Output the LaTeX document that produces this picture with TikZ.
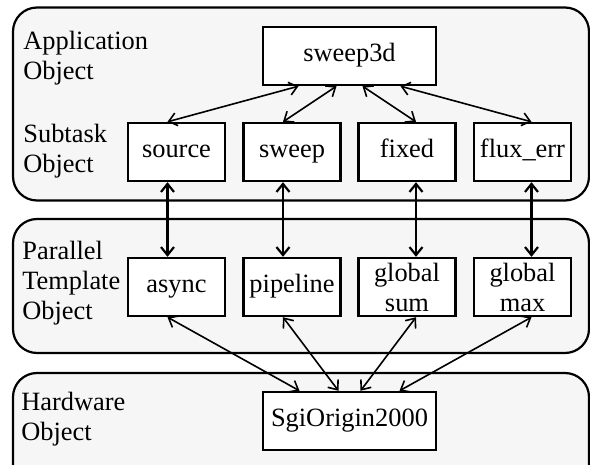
\documentclass[tikz,border=0pt]{standalone}
\usepackage{fontspec}
\setmainfont{Liberation Serif}
\usepackage{tikz}
\usetikzlibrary{arrows.meta}
\tikzset{>={Straight Barb[length=4pt,width=6.5pt]}}
\definecolor{layergray}{HTML}{F6F6F6}
\tikzset{
  layer/.style={draw, line width=1.1pt, fill=layergray, rounded corners=12pt},
  objbox/.style={draw, line width=1.2pt, fill=white, minimum width=48.5pt,
    minimum height=29pt, inner sep=1pt, align=center},
  oneline/.style={text height=0.75em, text depth=0.22em},
  layerlabel/.style={anchor=base west, align=left, inner sep=0pt},
  link/.style={<->, line width=0.8pt},
  vlink/.style={<->, line width=1.1pt}
}

\begin{document}
\begin{tikzpicture}[x=0.5pt, y=-0.5pt, font=\fontsize{13.2}{15}\selectfont]
    \clip (0, 0) rectangle (590, 465);
    % layers
    \draw[layer] (13, 7.5) rectangle (589, 200.5);
    \draw[layer] (13, 219) rectangle (589, 353);
    \draw[layer] (13, 373) rectangle (589, 495);
    \node[layerlabel] (applbl) at (23, 80) {Application\\Object};
    \node[layerlabel] (sublbl) at (23, 173) {Subtask\\Object};
    \node[layerlabel] (parlbl) at (22, 320) {Parallel\\Template\\Object};
    \node[layerlabel] (hwlbl) at (21, 440) {Hardware\\Object};
    % objects
    \node[objbox, oneline, minimum width=86.5pt] (sweep3d) at (349.5, 56) {sweep3d};
    \node[objbox, oneline] (source) at (176.5, 152) {source};
    \node[objbox, oneline] (sweep) at (292, 152) {sweep};
    \node[objbox, oneline] (fixed) at (407, 152) {fixed};
    \node[objbox, oneline] (fluxerr) at (522.5, 152) {flux\_err};
    \node[objbox, oneline] (async) at (176.5, 287) {async};
    \node[objbox, oneline] (pipeline) at (292, 287) {pipeline};
    \node[objbox] (gsum) at (407, 287) {global\\sum};
    \node[objbox] (gmax) at (522.5, 287) {global\\max};
    \node[objbox, oneline, minimum width=86.5pt] (sgi) at (349.5, 421) {SgiOrigin2000};
    % application -- subtask
    \draw[link] ([xshift=-25.5pt]sweep3d.south) -- ([xshift=-4.5pt]source.north);
    \draw[link] ([xshift=-6.5pt]sweep3d.south) -- ([xshift=-4.5pt]sweep.north);
    \draw[link] ([xshift=6.5pt]sweep3d.south) -- ([xshift=4.5pt]fixed.north);
    \draw[link] ([xshift=25.5pt]sweep3d.south) -- ([xshift=4.5pt]fluxerr.north);
    % subtask -- template
    \draw[vlink] ([xshift=-4.5pt]source.south) -- ([xshift=-4.5pt]async.north);
    \draw[vlink] ([xshift=-4.5pt]sweep.south) -- ([xshift=-4.5pt]pipeline.north);
    \draw[vlink] ([xshift=4.5pt]fixed.south) -- ([xshift=4.5pt]gsum.north);
    \draw[vlink] ([xshift=4.5pt]fluxerr.south) -- ([xshift=4.5pt]gmax.north);
    % template -- hardware
    \draw[link] ([xshift=-4.5pt]async.south) -- ([xshift=-25pt]sgi.north);
    \draw[link] ([xshift=-4.5pt]pipeline.south) -- ([xshift=-5.5pt]sgi.north);
    \draw[link] ([xshift=4.5pt]gsum.south) -- ([xshift=5.5pt]sgi.north);
    \draw[link] ([xshift=4.5pt]gmax.south) -- ([xshift=25pt]sgi.north);
\end{tikzpicture}
\end{document}
